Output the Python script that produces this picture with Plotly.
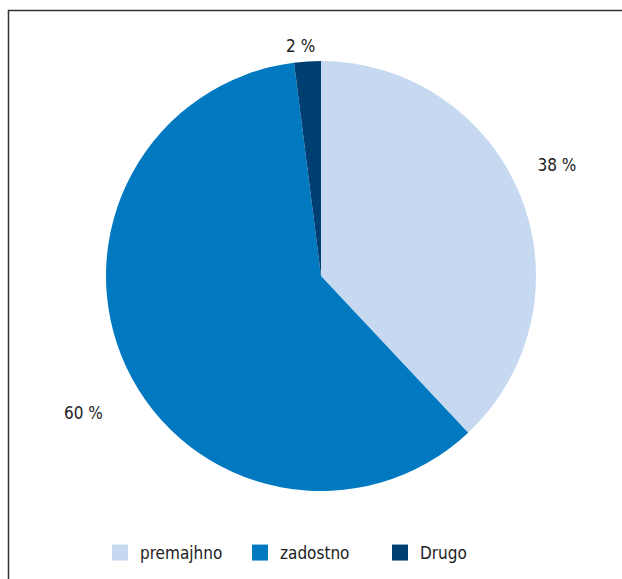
import plotly.graph_objects as go

labels = ["premajhno", "zadostno", "Drugo"]
values = [38, 60, 2]
colors = ["#C6D9F1", "#0079C1", "#003F72"]

W, H = 622, 579
cx, cy, r = 321, 276, 215
# per-label placement of the outside percentage labels: (rotation, carrier radius)
label_place = [(-5.7, 238), (-7, 252), (3.4, 220)]

font = dict(family="DejaVu Sans Condensed, Roboto, sans-serif", size=17, color="#222222")

fig = go.Figure()
for i, (rot, rl) in enumerate(label_place):
    tt = ["%{value} %" if j == i else "" for j in range(len(values))]
    fig.add_trace(go.Pie(
        labels=labels, values=values, sort=False, direction="clockwise", rotation=rot,
        marker=dict(colors=["rgba(0,0,0,0)"] * len(values), line=dict(width=0)),
        texttemplate=tt, textposition="outside", textfont=font,
        showlegend=False, hoverinfo="skip",
        domain=dict(x=[(cx - rl) / W, (cx + rl) / W], y=[(H - cy - rl) / H, (H - cy + rl) / H]),
    ))
fig.add_trace(go.Pie(
    labels=labels, values=values, sort=False, direction="clockwise", rotation=0,
    marker=dict(colors=colors, line=dict(width=0)),
    textinfo="none", showlegend=False,
    domain=dict(x=[(cx - r) / W, (cx + r) / W], y=[(H - cy - r) / H, (H - cy + r) / H]),
))
# legend entries with larger square swatches
for lab, col in zip(labels, colors):
    fig.add_trace(go.Scatter(
        x=[None], y=[None], mode="markers", name=lab,
        marker=dict(symbol="square", size=16, color=col, line=dict(width=0)),
        hoverinfo="skip", showlegend=True,
    ))
fig.update_layout(
    width=W, height=H, margin=dict(l=0, r=0, t=0, b=0),
    paper_bgcolor="white", plot_bgcolor="rgba(0,0,0,0)",
    font=font,
    xaxis=dict(visible=False, range=[0, 1]), yaxis=dict(visible=False, range=[0, 1]),
    legend=dict(orientation="h", x=100 / W, xanchor="left", y=1 - 553 / H, yanchor="middle",
                font=font, traceorder="normal", itemwidth=30, itemsizing="trace",
                entrywidth=95, entrywidthmode="pixels"),
    shapes=[dict(type="rect", xref="paper", yref="paper",
                 x0=8.5 / W, x1=1.2, y0=-0.2, y1=1 - 10.5 / H,
                 line=dict(color="#333333", width=1.5), fillcolor="rgba(0,0,0,0)")],
)
fig.write_html("out.html")
